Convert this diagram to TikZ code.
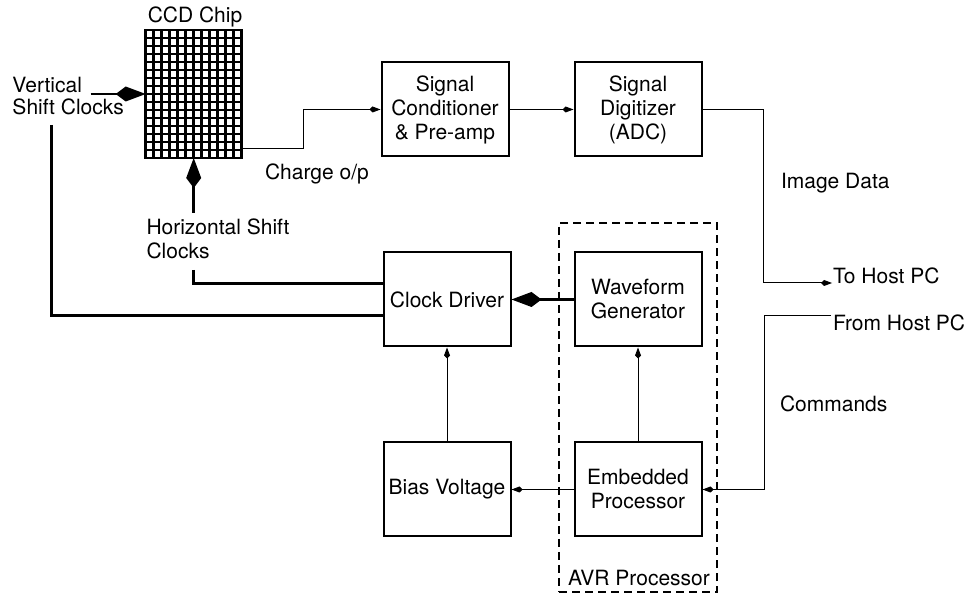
\documentclass[tikz,border=0pt]{standalone}
\usepackage{fontspec}
\setmainfont{TeX Gyre Heros}
\usetikzlibrary{arrows.meta}
\begin{document}
\begin{tikzpicture}[x=1pt,y=-1pt,
  every node/.style={font=\fontsize{21pt}{24pt}\selectfont},
  box/.style={draw, line width=2pt, minimum width=127pt, minimum height=94pt, align=center, inner sep=0pt},
  lbl/.style={anchor=base west, inner sep=0pt, outer sep=0pt},
  thinline/.style={line width=1pt},
  thinarrow/.style={line width=1pt, -{Kite[length=11pt,width=6pt,inset=3pt]}},
  bigline/.style={line width=2.6pt},
  bigarrow/.style={line width=2.6pt, -{Kite[length=30pt,width=15pt,inset=10pt]}},
  gridline/.style={line width=2.8pt, line cap=rect}]
\useasboundingbox (0,0) rectangle (978,601);

% CCD chip
\node[minimum width=96pt, minimum height=128pt, inner sep=0pt, outer sep=0pt] (ccd) at (193.7,94) {};
\foreach \i in {0,...,12}
  \draw[gridline] ([xshift={8pt*\i}]ccd.north west) -- ([xshift={8pt*\i}]ccd.south west);
\foreach \j in {0,...,16}
  \draw[gridline] ([yshift={-8pt*\j}]ccd.north west) -- ([yshift={-8pt*\j}]ccd.north east);
\node[anchor=base, inner sep=0pt] (ccdlbl) at (195,23) {CCD Chip};

% boxes
\node[box] (sigcond) at (445,109.5) {Signal\\Conditioner\\\& Pre-amp};
\node[box] (digit) at (638,109.5) {Signal\\Digitizer\\(ADC)};
\node[box] (clock) at (447,299.5) {Clock Driver};
\node[box] (wave) at (638,299.5) {Waveform\\Generator};
\node[box] (bias) at (447,489.5) {Bias Voltage};
\node[box] (emb) at (638,489.5) {Embedded\\Processor};
\node[draw, line width=2pt, dash pattern=on 8pt off 5pt, minimum width=158pt, minimum height=369pt, inner sep=0pt] (avr) at (638,407.5) {};

% labels
\node[lbl] (vert1) at (12.5,93) {Vertical};
\node[lbl] (vert2) at (12.5,115) {Shift Clocks};
\node[lbl] (hor1) at (146.5,235) {Horizontal Shift};
\node[lbl] (hor2) at (146.5,259) {Clocks};
\node[lbl] (charge) at (265,180) {Charge o/p};
\node[lbl] (imgdata) at (781,189) {Image Data};
\node[lbl] (tohost) at (833,284) {To Host PC};
\node[lbl] (fromhost) at (833,331) {From Host PC};
\node[lbl] (cmds) at (780,412) {Commands};
\node[lbl] (avrlbl) at (568,585) {AVR Processor};

% coordinates for free ends
\coordinate (vs) at (90.7,94);
\coordinate (vsdown) at (51.7,125);
\coordinate (hs) at (193.7,213);
\coordinate (hsdown) at (193.7,270);

% connectors
\draw[bigarrow] (vs) -- (ccd.west);
\draw[bigarrow] (hs) -- (ccd.south);
\draw[bigline] (vsdown) |- ([yshift=-16pt]clock.west);
\draw[bigline] (hsdown) |- ([yshift=16pt]clock.west);
\draw[thinarrow] ([yshift=9pt]ccd.south east) -- ++(62,0) |- (sigcond.west);
\draw[thinarrow] (sigcond.east) -- (digit.west);
\draw[thinarrow] (digit.east) -- ++(61,0) |- ([xshift=-1pt,yshift=1pt]tohost.base west);
\draw[thinarrow] ([xshift=-2pt,yshift=15pt]fromhost.base west) -- ++(-67,0) |- (emb.east);
\draw[bigarrow] (wave.west) -- (clock.east);
\draw[thinarrow] (emb.west) -- (bias.east);
\draw[thinarrow] (emb.north) -- (wave.south);
\draw[thinarrow] (bias.north) -- (clock.south);
\end{tikzpicture}
\end{document}
